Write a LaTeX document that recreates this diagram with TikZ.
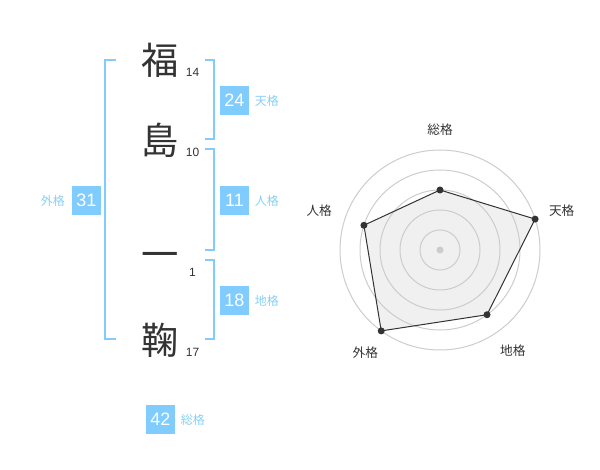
\documentclass[tikz,border=0pt]{standalone}
\usepackage{fontspec}
\setmainfont{Liberation Sans}
\newfontfamily\jpfont{Noto Sans CJK JP}
\usetikzlibrary{positioning}
\definecolor{skyb}{HTML}{80CCFF}
\definecolor{labb}{HTML}{88CFF5}
\definecolor{ink}{HTML}{333333}
\definecolor{ringc}{HTML}{CCCCCC}
\definecolor{areac}{HTML}{F0F0F0}

\begin{document}
\begin{tikzpicture}[x=0.75pt,y=-0.75pt,
    kanji/.style={font=\jpfont\fontsize{28}{30}\selectfont, text=ink, inner sep=0},
    strokes/.style={font=\fontsize{9}{10}\selectfont, text=ink, inner sep=0},
    valbox/.style={fill=skyb, text=white, minimum size=21.75pt, inner sep=0, font=\fontsize{13.5}{14}\selectfont},
    kaku/.style={font=\jpfont\fontsize{9}{10}\selectfont, text=labb, inner sep=0},
    axis/.style={font=\jpfont\fontsize{9.5}{10}\selectfont, text=ink, inner sep=0},
    brace/.style={draw=skyb, line width=1.5pt},
    ring/.style={draw=ringc, line width=0.75pt},
    edge/.style={draw=ink, line width=0.75pt}]
    \useasboundingbox (0,0) rectangle (600,470);

    % name and stroke counts
    \foreach \ch/\y/\n/\nm in {福/60/14/a, 島/140/10/b, 一/260/1/c, 鞠/340/17/d}
    {
        \node [kanji] (k-\nm) at (160,\y) {\ch};
        \node [strokes] (s-\nm) at (192.5,\y+12.5) {\n};
    }

    % brackets
    \draw [brace] (116,60) -- (105,60) -- (105,339) -- (116,339);
    \draw [brace] (205,60) -- (214,60) -- (214,139) -- (205,139);
    \draw [brace] (205,149) -- (214,149) -- (214,250) -- (205,250);
    \draw [brace] (205,260) -- (214,260) -- (214,339) -- (205,339);

    % five values
    \node [valbox] (ten) at (234.5,100.5) {24};
    \node [kaku, right=4pt of ten] (ten-l) {天格};
    \node [valbox] (jin) at (234.5,200.5) {11};
    \node [kaku, right=4pt of jin] (jin-l) {人格};
    \node [valbox] (chi) at (234.5,300.5) {18};
    \node [kaku, right=4pt of chi] (chi-l) {地格};
    \node [valbox] (gai) at (86.5,200.5) {31};
    \node [kaku, left=5pt of gai] (gai-l) {外格};
    \node [valbox] (sou) at (160.5,419.5) {42};
    \node [kaku, right=4pt of sou] (sou-l) {総格};

    % radar chart
    \coordinate (c) at (440,250);
    \foreach \nm/\ang/\val/\d/\txt in {sou/-90/3/120/総格, ten/-18/5/128/天格, chi/54/4/124/地格, gai/126/5/127/外格, jin/198/4/127/人格}
    {
        \path (c) ++(\ang:20*\val) coordinate (p-\nm);
        \path (c) ++(\ang:\d) node [axis] (a-\nm) {\txt};
    }
    \fill [areac] (p-sou) -- (p-ten) -- (p-chi) -- (p-gai) -- (p-jin) -- cycle;
    \foreach \r in {1,...,5}
        \draw [ring] (c) circle [radius=20*\r];
    \fill [ringc] (c) circle [radius=3.5];
    \draw [edge] (p-sou) -- (p-ten) -- (p-chi) -- (p-gai) -- (p-jin) -- cycle;
    \foreach \nm in {sou, ten, chi, gai, jin}
        \fill [ink] (p-\nm) circle [radius=3.5];
\end{tikzpicture}
\end{document}
